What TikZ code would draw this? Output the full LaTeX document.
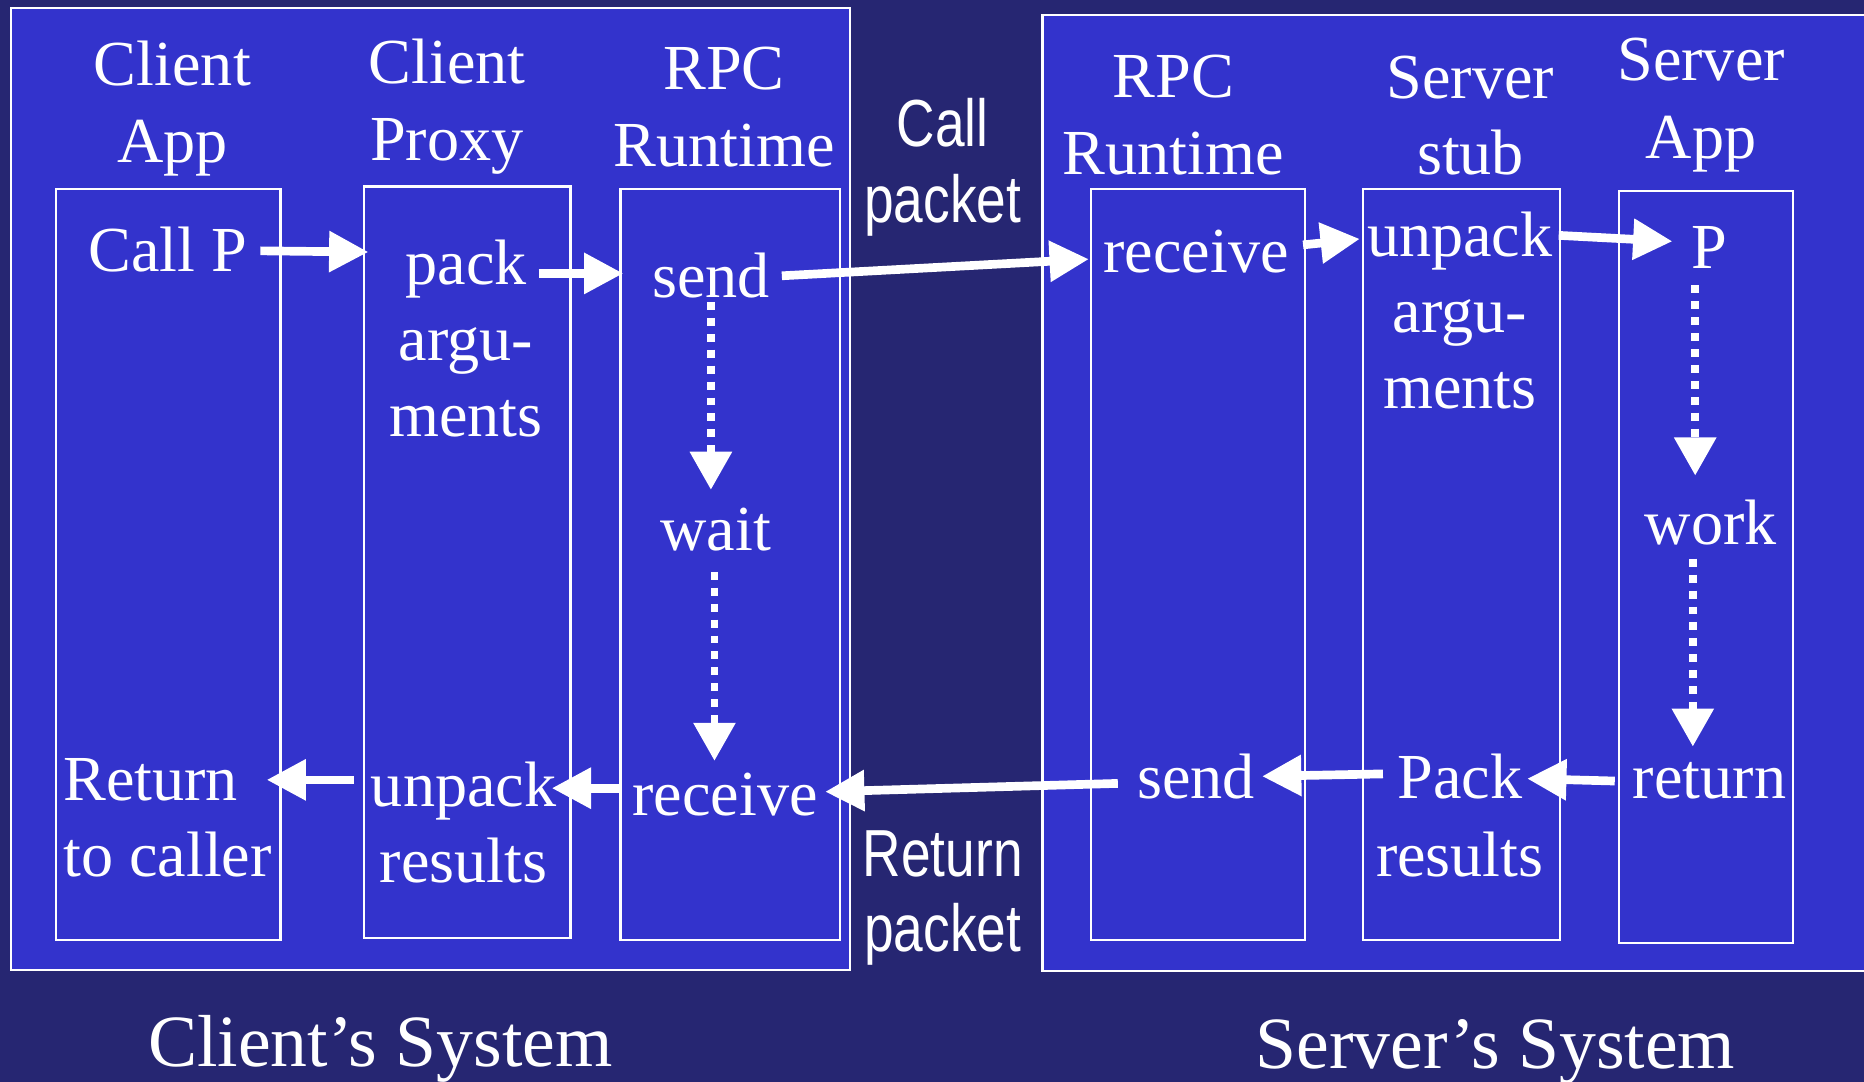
\documentclass[tikz,border=0pt]{standalone}
\usepackage{fontspec}
\setmainfont{Liberation Serif}
\newfontfamily\condsans[FakeStretch=0.8]{Liberation Sans}
\usetikzlibrary{arrows.meta}
\definecolor{bgnavy}{RGB}{38,38,114}
\definecolor{boxblue}{RGB}{51,51,204}
\begin{document}
\begin{tikzpicture}[x=1pt,y=-1pt,
  lbl/.style={text=white, inner sep=0pt, anchor=base, font=\fontsize{54}{64}\selectfont},
  lblw/.style={lbl, anchor=base west},
  pkt/.style={text=white, inner sep=0pt, anchor=base, font=\condsans\fontsize{56}{64}\selectfont},
  sys/.style={text=white, inner sep=0pt, anchor=base, font=\fontsize{62}{70}\selectfont},
  colbox/.style={draw=white, line width=1.8pt, fill=boxblue, inner sep=0pt, anchor=north west},
  arr/.style={white, line width=7.3pt, -{Triangle[length=33pt,width=33pt]}},
  darr/.style={white, line width=6.6pt, dash pattern=on 6.7pt off 6.7pt, -{Triangle[length=32pt,width=34pt]}},
]
\useasboundingbox (0,0) rectangle (1568,910);
\fill[bgnavy] (0,0) rectangle (1568,910);
\clip (0,0) rectangle (1568,910);

% system boxes
\node[colbox, minimum width=706pt, minimum height=809pt] (client) at (8,6) {};
\node[colbox, minimum width=710pt, minimum height=804pt] (server) at (876,12) {};

% column boxes
\node[colbox, minimum width=189pt, minimum height=632pt] (cabox) at (46,158) {};
\node[colbox, minimum width=174pt, minimum height=632pt] (cpbox) at (305,156) {};
\node[colbox, minimum width=185pt, minimum height=632pt] (crbox) at (521,158) {};
\node[colbox, minimum width=180pt, minimum height=632pt] (srbox) at (917,158) {};
\node[colbox, minimum width=165pt, minimum height=632pt] (ssbox) at (1146,158) {};
\node[colbox, minimum width=146pt, minimum height=632pt] (sabox) at (1361,160) {};

% headers
\node[lbl] (ca1) at (145,72) {Client};
\node[lbl] (ca2) at (145,137) {App};
\node[lbl] (cp1) at (376,70) {Client};
\node[lbl] (cp2) at (376,135) {Proxy};
\node[lbl] (cr1) at (609,75) {RPC};
\node[lbl] (cr2) at (609,140) {Runtime};
\node[pkt] (cpk1) at (793,123) {Call};
\node[pkt] (cpk2) at (793,187) {packet};
\node[lbl] (sr1) at (987,82) {RPC};
\node[lbl] (sr2) at (987,147) {Runtime};
\node[lbl] (ss1) at (1237,83) {Server};
\node[lbl] (ss2) at (1237,147) {stub};
\node[lbl] (sa1) at (1431,68) {Server};
\node[lbl] (sa2) at (1431,133) {App};

% client contents
\node[lbl] (callp) at (141,228) {Call P};
\node[lbl] (pack) at (392,239) {pack};
\node[lbl] (pargu) at (392,303) {argu-};
\node[lbl] (pments) at (392,367) {ments};
\node[lbl] (csend) at (598,250) {send};
\node[lbl] (wait) at (602,463) {wait};
\node[lbl] (crecv) at (610,686) {receive};
\node[lbl] (cunpack) at (390,678) {unpack};
\node[lbl] (cres) at (390,742) {results};
\node[lblw] (ret1) at (53,673) {Return};
\node[lblw] (ret2) at (53,737) {to caller};
\node[pkt] (rpk1) at (793,737) {Return};
\node[pkt] (rpk2) at (793,800) {packet};

% server contents
\node[lbl] (srecv) at (1006,229) {receive};
\node[lbl] (sunpack) at (1228,216) {unpack};
\node[lbl] (sargu) at (1228,280) {argu-};
\node[lbl] (sments) at (1228,344) {ments};
\node[lbl] (P) at (1438,226) {P};
\node[lbl] (work) at (1439,458) {work};
\node[lbl] (sret) at (1438,672) {return};
\node[lbl] (spack) at (1228,672) {Pack};
\node[lbl] (sres) at (1228,737) {results};
\node[lbl] (ssend) at (1006,672) {send};

% system titles
\node[sys] (csys) at (320,897) {Client’s System};
\node[sys] (ssys) at (1258,899) {Server’s System};

% arrows: call path
\draw[arr] ([xshift=11pt,yshift=17pt]callp.base east) -- ([xshift=-31pt,yshift=27pt]pack.base west);
\draw[arr] ([xshift=10pt,yshift=9pt]pack.base east) -- ([xshift=-24pt,yshift=20pt]csend.base west);
\draw[arr] ([xshift=10pt,yshift=18pt]csend.base east) -- ([xshift=-12pt,yshift=11pt]srecv.base west);
\draw[arr] ([xshift=12pt,yshift=23pt]srecv.base east) -- ([xshift=-6pt,yshift=15pt]sunpack.base west);
\draw[arr] ([xshift=5pt,yshift=18pt]sunpack.base east) -- ([xshift=-16pt,yshift=23pt]P.base west);
\draw[darr] ([xshift=-12pt,yshift=-14pt]P.base) -- ([xshift=-13pt,yshift=58pt]work.base);
\draw[darr] ([xshift=-15pt,yshift=-12pt]work.base) -- ([xshift=-14pt,yshift=44pt]sret.base);
% return path
\draw[arr] ([xshift=-15pt,yshift=15pt]sret.base west) -- ([xshift=4pt,yshift=17pt]spack.base east);
\draw[arr] ([xshift=-12pt,yshift=21pt]spack.base west) -- ([xshift=6pt,yshift=19pt]ssend.base east);
\draw[arr] ([xshift=-16pt,yshift=13pt]ssend.base west) -- ([xshift=6pt,yshift=20pt]crecv.base east);
\draw[arr] ([xshift=-11pt,yshift=23pt]crecv.base west) -- ([xshift=-4pt,yshift=15pt]cunpack.base east);
\draw[arr] ([xshift=-14pt,yshift=22pt]cunpack.base west) -- ([xshift=24pt,yshift=17pt]ret1.base east);
% waiting on client
\draw[darr] ([yshift=-4pt]csend.base) -- ([xshift=-4pt,yshift=51pt]wait.base);
\draw[darr] ([xshift=-1pt,yshift=-18pt]wait.base) -- ([xshift=-9pt,yshift=46pt]crecv.base);
\end{tikzpicture}
\end{document}
